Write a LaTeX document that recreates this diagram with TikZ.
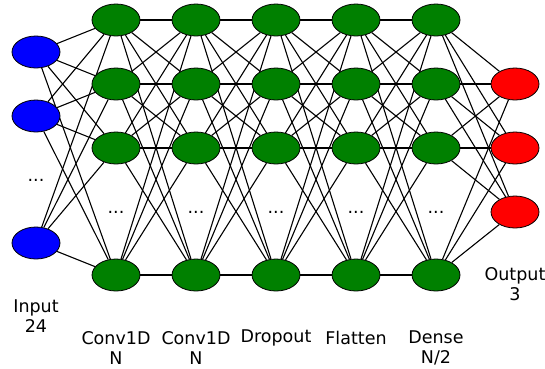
\documentclass[tikz,border=0pt]{standalone}
\usepackage{fontspec}
\setmainfont{DejaVu Sans}
\usetikzlibrary{backgrounds,shapes.geometric}
\begin{document}
\begin{tikzpicture}[x=1pt,y=-1pt,
  neuron/.style={ellipse,draw=black,line width=0.8pt,minimum width=48pt,minimum height=32pt,inner sep=0pt},
  innode/.style={neuron,fill=blue},
  hidnode/.style={neuron,fill={rgb,255:red,0;green,128;blue,0}},
  outnode/.style={neuron,fill=red},
  conn/.style={draw=black,line width=1.1pt},
  lbl/.style={align=center,font=\fontsize{17.5}{19.5}\selectfont},
  dotlbl/.style={font=\fontsize{17.5}{19.5}\selectfont}]
\useasboundingbox (0,0) rectangle (545,368);
% input
\node[innode] (i1) at (36,52) {};
\node[innode] (i2) at (36,116) {};
\node[innode] (i3) at (36,243) {};
\node[dotlbl] (id) at (36,180) {...};
% hidden layers
\foreach \l/\x in {1/116,2/196,3/276,4/356,5/436}{
  \node[hidnode] (h\l-1) at (\x,20) {};
  \node[hidnode] (h\l-2) at (\x,84) {};
  \node[hidnode] (h\l-3) at (\x,148) {};
  \node[hidnode] (h\l-4) at (\x,275) {};
  \node[dotlbl] (hd\l) at (\x,212) {...};
}
% output
\node[outnode] (o1) at (515,84) {};
\node[outnode] (o2) at (515,148) {};
\node[outnode] (o3) at (515,212) {};
% connections
\begin{scope}[on background layer]
\foreach \a in {1,2,3}{\foreach \b in {1,2,3,4}{\path[conn] (i\a) -- (h1-\b);}}
\foreach \l/\n in {1/2,2/3,3/4,4/5}{
  \foreach \a in {1,2,3,4}{\foreach \b in {1,2,3,4}{\path[conn] (h\l-\a) -- (h\n-\b);}}}
\foreach \a in {1,2,3,4}{\foreach \b in {1,2,3}{\path[conn] (h5-\a) -- (o\b);}}
\end{scope}
% labels
\node[lbl] (li) at (36,316) {Input\\24};
\node[lbl] (l1) at (116,348) {Conv1D\\N};
\node[lbl] (l2) at (196,348) {Conv1D\\N};
\node[lbl] (l3) at (276,338) {Dropout};
\node[lbl] (l4) at (356,338) {Flatten};
\node[lbl] (l5) at (436,348) {Dense\\N/2};
\node[lbl] (lo) at (515,284) {Output\\3};
\end{tikzpicture}
\end{document}
